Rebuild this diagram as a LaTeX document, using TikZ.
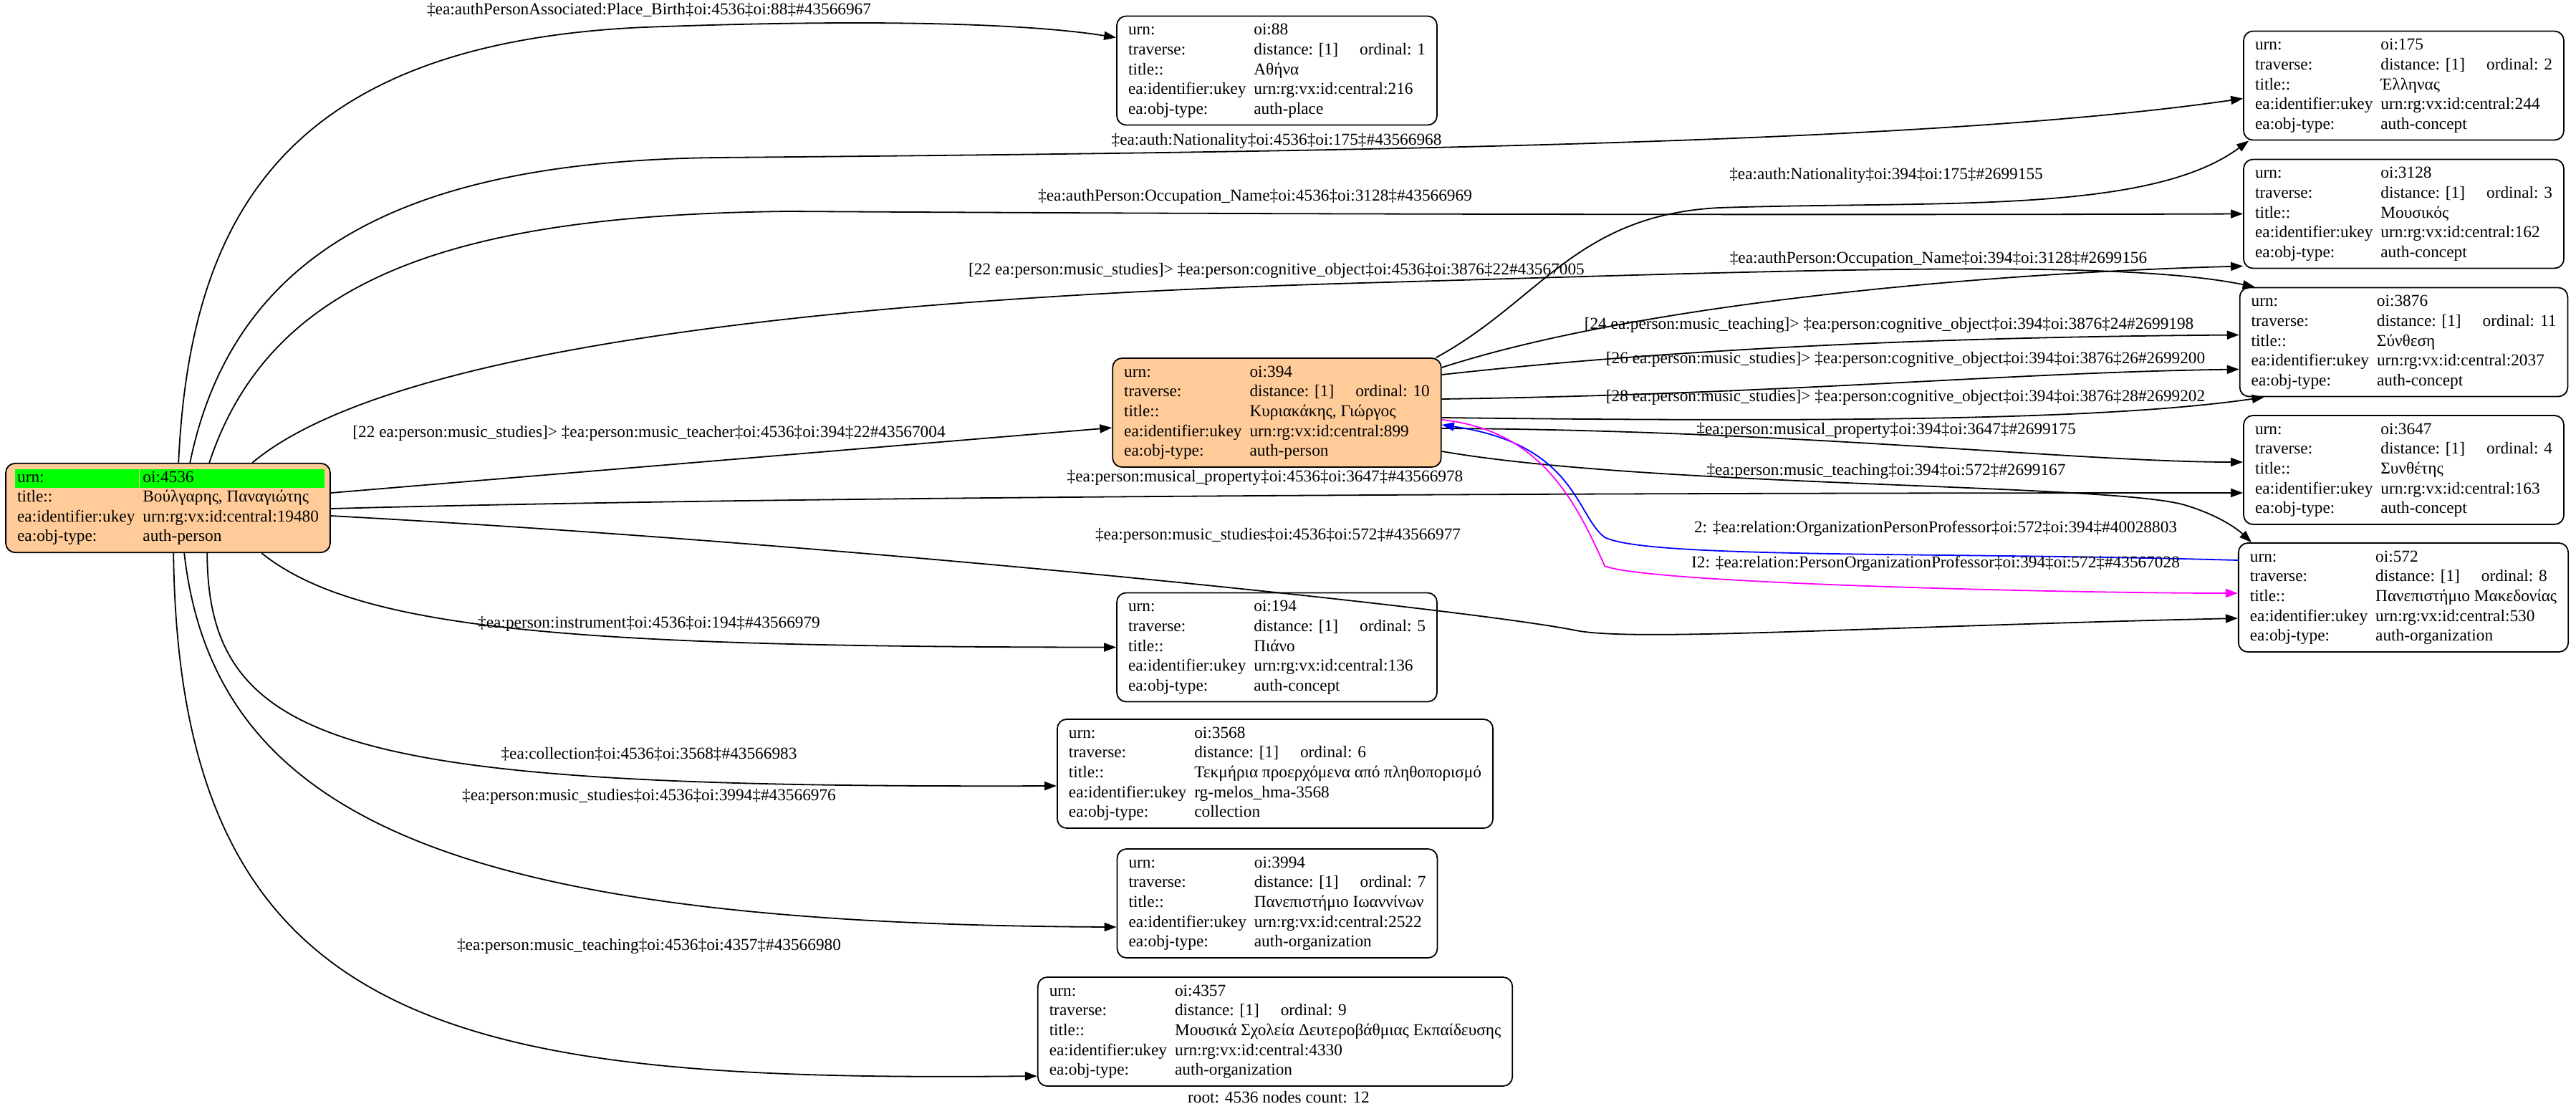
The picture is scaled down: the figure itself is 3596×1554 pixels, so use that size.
\documentclass[tikz,border=0pt]{standalone}
\usepackage{fontspec}
\setmainfont{Liberation Serif}
\usetikzlibrary{arrows.meta,calc}
\definecolor{peach}{RGB}{255,204,153}
\definecolor{urngreen}{RGB}{0,255,0}
\definecolor{profblue}{RGB}{0,0,255}
\definecolor{profpink}{RGB}{255,0,255}
\newcommand{\gvfont}{\fontsize{11.65}{13.8}\selectfont}
% one record: urn, ordinal, title, ukey, type
\newcommand{\rec}[5]{%
  \begin{tabular}{@{}l@{\hspace{5.5pt}}l@{}}
    urn: & #1\\
    traverse: & distance: [1]\hspace{15pt}ordinal: #2\hspace{7pt}\\
    title:: & #3\\
    ea:identifier:ukey & #4\\
    ea:obj-type: & #5
  \end{tabular}}
\newcommand{\greencell}[2]{\makebox[0pt][l]{\hspace{#1}\textcolor{urngreen}{\rule[-3.75pt]{#2}{13pt}}}}
\tikzset{
  obj/.style={draw, rounded corners=6.5pt, line width=0.9pt, inner xsep=8pt, inner ysep=3.5pt, font=\gvfont},
  focus/.style={obj, fill=peach},
  rel/.style={-{Triangle[length=8.5pt,width=6pt]}, line width=0.9pt},
  lab/.style={inner sep=0pt, font=\gvfont}
}
\begin{document}
\begin{tikzpicture}[x=0.5pt,y=-0.5pt]
	\useasboundingbox (0,0) rectangle (3596,1554);
	% root
	\node[focus] (root) at (234.5,709) {%
		\begin{tabular}{@{}l@{\hspace{5.5pt}}l@{}}
			\greencell{-1.5pt}{86.5pt}urn: & \greencell{-2pt}{129pt}oi:4536\\
			title:: & Βούλγαρης, Παναγιώτης\\
			ea:identifier:ukey & urn:rg:vx:id:central:19480\\
			ea:obj-type: & auth-person
		\end{tabular}};
	% middle column
	\node[obj] (n88) at (1782.5,98.5) {\rec{oi:88}{1}{Αθήνα}{urn:rg:vx:id:central:216}{auth-place}};
	\node[focus] (n394) at (1782.5,576) {\rec{oi:394}{10}{Κυριακάκης, Γιώργος}{urn:rg:vx:id:central:899}{auth-person}};
	\node[obj] (n194) at (1782.5,903.5) {\rec{oi:194}{5}{Πιάνο}{urn:rg:vx:id:central:136}{auth-concept}};
	\node[obj] (n3568) at (1780,1080) {\rec{oi:3568}{6}{Τεκμήρια προερχόμενα από πληθοπορισμό}{rg-melos\_hma-3568}{collection}};
	\node[obj] (n3994) at (1783,1261) {\rec{oi:3994}{7}{Πανεπιστήμιο Ιωαννίνων}{urn:rg:vx:id:central:2522}{auth-organization}};
	\node[obj] (n4357) at (1780,1440) {\rec{oi:4357}{9}{Μουσικά Σχολεία Δευτεροβάθμιας Εκπαίδευσης}{urn:rg:vx:id:central:4330}{auth-organization}};
	% right column
	\node[obj] (n175) at (3355.5,119.5) {\rec{oi:175}{2}{Έλληνας}{urn:rg:vx:id:central:244}{auth-concept}};
	\node[obj] (n3128) at (3355.5,298.5) {\rec{oi:3128}{3}{Μουσικός}{urn:rg:vx:id:central:162}{auth-concept}};
	\node[obj] (n3876) at (3355.5,477.5) {\rec{oi:3876}{11}{Σύνθεση}{urn:rg:vx:id:central:2037}{auth-concept}};
	\node[obj] (n3647) at (3355.5,656) {\rec{oi:3647}{4}{Συνθέτης}{urn:rg:vx:id:central:163}{auth-concept}};
	\node[obj] (n572) at (3355,834) {\rec{oi:572}{8}{Πανεπιστήμιο Μακεδονίας}{urn:rg:vx:id:central:530}{auth-organization}};

	% edges from the root
	\draw[rel] ($(root.north west)+(242,0)$) .. controls (265,300) and (400,60) .. (900,38) .. controls (1250,25) and (1450,35) .. ($(n88.west)+(0,-46)$);
	\draw[rel] ($(root.north west)+(258,0)$) .. controls (330,330) and (600,225) .. (1000,220) .. controls (1900,212) and (2700,200) .. ($(n175.west)+(0,18)$);
	\draw[rel] ($(root.north west)+(285,0)$) .. controls (380,380) and (650,300) .. (1100,295) .. controls (1900,300) and (2700,300) .. (n3128.west);
	\draw[rel] ($(root.north west)+(345,0)$) .. controls (550,480) and (1200,415) .. (1900,395) .. controls (2500,378) and (2950,360) .. ($(n3876.north west)+(22,0)$);
	\draw[rel] ($(root.east)+(0,-21)$) -- ($(n394.west)+(0,21)$);
	\draw[rel] ($(root.east)+(0,1)$) .. controls (1200,690) and (2500,688) .. ($(n3647.west)+(0,32)$);
	\draw[rel] ($(root.east)+(0,11)$) .. controls (1200,760) and (2050,850) .. (2200,880) .. controls (2280,896) and (2600,875) .. ($(n572.west)+(0,29)$);
	\draw[rel] ($(root.south west)+(358,0)$) .. controls (500,880) and (800,903) .. (n194.west);
	\draw[rel] ($(root.south west)+(282,0)$) .. controls (290,1050) and (500,1100) .. ($(n3568.west)+(0,17)$);
	\draw[rel] ($(root.south west)+(250,0)$) .. controls (300,1150) and (650,1290) .. ($(n3994.west)+(0,33)$);
	\draw[rel] ($(root.south west)+(235,0)$) .. controls (250,1450) and (650,1510) .. ($(n4357.west)+(0,62)$);

	% edges from oi:394
	\draw[rel] ($(n394.north east)+(-8,0)$) .. controls (2150,420) and (2200,300) .. (2400,290) .. controls (2700,280) and (3000,300) .. ($(n175.south west)+(8,0)$);
	\draw[rel] ($(n394.east)+(0,-63)$) .. controls (2300,420) and (2800,380) .. ($(n3128.west)+(0,73)$);
	\draw[rel] ($(n394.east)+(0,-53)$) .. controls (2400,480) and (2800,470) .. ($(n3876.west)+(0,-10)$);
	\draw[rel] ($(n394.east)+(0,-19)$) .. controls (2500,550) and (2800,520) .. ($(n3876.west)+(0,38)$);
	\draw[rel] ($(n394.east)+(0,7)$) .. controls (2600,590) and (2950,585) .. ($(n3876.south west)+(35,0)$);
	\draw[rel] ($(n394.east)+(0,22)$) .. controls (2500,600) and (2900,645) .. ($(n3647.west)+(0,-11)$);
	\draw[rel] ($(n394.east)+(0,54)$) .. controls (2300,680) and (2950,675) .. (3050,705) .. controls (3100,720) and (3125,740) .. ($(n572.north west)+(19,0)$);
	\draw[rel, profblue] ($(n572.west)+(0,-52)$) .. controls (2700,770) and (2300,780) .. (2240,750) .. controls (2200,720) and (2200,620) .. ($(n394.east)+(0,17)$);
	\draw[rel, profpink] ($(n394.east)+(0,10)$) .. controls (2150,600) and (2200,700) .. (2240,790) .. controls (2300,815) and (2900,828) .. ($(n572.west)+(0,-6)$);

	% edge labels
	\node[lab] (l88) at (906,14) {‡ea:authPersonAssociated:Place\_Birth‡oi:4536‡oi:88‡\#43566967};
	\node[lab] (l175) at (1782,197) {‡ea:auth:Nationality‡oi:4536‡oi:175‡\#43566968};
	\node[lab] (l3128) at (1752,275) {‡ea:authPerson:Occupation\_Name‡oi:4536‡oi:3128‡\#43566969};
	\node[lab] (l3876) at (1782,378) {[22 ea:person:music\_studies]> ‡ea:person:cognitive\_object‡oi:4536‡oi:3876‡22\#43567005};
	\node[lab] (l394) at (906,605) {[22 ea:person:music\_studies]> ‡ea:person:music\_teacher‡oi:4536‡oi:394‡22\#43567004};
	\node[lab] (l3647) at (1766,667) {‡ea:person:musical\_property‡oi:4536‡oi:3647‡\#43566978};
	\node[lab] (l572) at (1784,748) {‡ea:person:music\_studies‡oi:4536‡oi:572‡\#43566977};
	\node[lab] (l194) at (906,871) {‡ea:person:instrument‡oi:4536‡oi:194‡\#43566979};
	\node[lab] (l3568) at (906,1053) {‡ea:collection‡oi:4536‡oi:3568‡\#43566983};
	\node[lab] (l3994) at (906,1112) {‡ea:person:music\_studies‡oi:4536‡oi:3994‡\#43566976};
	\node[lab] (l4357) at (906,1321) {‡ea:person:music\_teaching‡oi:4536‡oi:4357‡\#43566980};
	\node[lab] (m175) at (2633,245) {‡ea:auth:Nationality‡oi:394‡oi:175‡\#2699155};
	\node[lab] (m3128) at (2706,362) {‡ea:authPerson:Occupation\_Name‡oi:394‡oi:3128‡\#2699156};
	\node[lab] (m24) at (2637,454) {[24 ea:person:music\_teaching]> ‡ea:person:cognitive\_object‡oi:394‡oi:3876‡24\#2699198};
	\node[lab] (m26) at (2660,502) {[26 ea:person:music\_studies]> ‡ea:person:cognitive\_object‡oi:394‡oi:3876‡26\#2699200};
	\node[lab] (m28) at (2660,555) {[28 ea:person:music\_studies]> ‡ea:person:cognitive\_object‡oi:394‡oi:3876‡28\#2699202};
	\node[lab] (m3647) at (2633,601) {‡ea:person:musical\_property‡oi:394‡oi:3647‡\#2699175};
	\node[lab] (m572) at (2633,658) {‡ea:person:music\_teaching‡oi:394‡oi:572‡\#2699167};
	\node[lab] (mblue) at (2702,738) {2: ‡ea:relation:OrganizationPersonProfessor‡oi:572‡oi:394‡\#40028803};
	\node[lab] (mpink) at (2702,787) {I2: ‡ea:relation:PersonOrganizationProfessor‡oi:394‡oi:572‡\#43567028};
	\node[lab] (count) at (1785,1532) {root: 4536 nodes count: 12};
\end{tikzpicture}
\end{document}
